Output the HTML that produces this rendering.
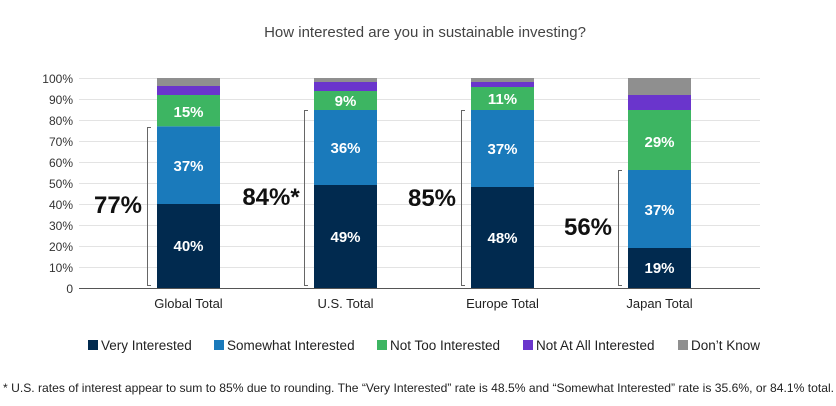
<!DOCTYPE html>
<html><head><meta charset="utf-8"><style>
html,body{margin:0;padding:0;background:#fff;}
svg{display:block;font-family:"Liberation Sans",sans-serif;}
</style></head><body>
<svg width="836" height="406" viewBox="0 0 836 406">
<text x="425" y="37" font-size="15" fill="#444" text-anchor="middle">How interested are you in sustainable investing?</text>
<g stroke="#e3e3e3" stroke-width="1">
<line x1="79" x2="760" y1="78.5" y2="78.5"/><line x1="79" x2="760" y1="99.5" y2="99.5"/><line x1="79" x2="760" y1="120.5" y2="120.5"/><line x1="79" x2="760" y1="141.5" y2="141.5"/><line x1="79" x2="760" y1="162.5" y2="162.5"/><line x1="79" x2="760" y1="183.5" y2="183.5"/><line x1="79" x2="760" y1="204.5" y2="204.5"/><line x1="79" x2="760" y1="225.5" y2="225.5"/><line x1="79" x2="760" y1="246.5" y2="246.5"/><line x1="79" x2="760" y1="267.5" y2="267.5"/>
</g>
<g font-size="12" fill="#333" text-anchor="end">
<text x="73" y="83">100%</text><text x="73" y="104">90%</text><text x="73" y="125">80%</text><text x="73" y="146">70%</text><text x="73" y="167">60%</text><text x="73" y="188">50%</text><text x="73" y="209">40%</text><text x="73" y="230">30%</text><text x="73" y="251">20%</text><text x="73" y="272">10%</text><text x="73" y="293">0</text>
</g>
<!-- Global -->
<rect x="157" y="204" width="63" height="84" fill="#012a4f"/>
<rect x="157" y="126.3" width="63" height="77.7" fill="#1a7abb"/>
<rect x="157" y="95" width="63" height="31.3" fill="#3db562"/>
<rect x="157" y="86" width="63" height="9" fill="#6a35cc"/>
<rect x="157" y="78" width="63" height="8" fill="#8f8f8f"/>
<!-- US -->
<rect x="314" y="185" width="63" height="103" fill="#012a4f"/>
<rect x="314" y="110" width="63" height="75" fill="#1a7abb"/>
<rect x="314" y="91" width="63" height="19" fill="#3db562"/>
<rect x="314" y="82" width="63" height="9" fill="#6a35cc"/>
<rect x="314" y="78" width="63" height="4" fill="#8f8f8f"/>
<!-- Europe -->
<rect x="471" y="187" width="63" height="101" fill="#012a4f"/>
<rect x="471" y="110" width="63" height="77" fill="#1a7abb"/>
<rect x="471" y="87" width="63" height="23" fill="#3db562"/>
<rect x="471" y="82" width="63" height="5" fill="#6a35cc"/>
<rect x="471" y="78" width="63" height="4" fill="#8f8f8f"/>
<!-- Japan -->
<rect x="628" y="248" width="63" height="40" fill="#012a4f"/>
<rect x="628" y="170" width="63" height="78" fill="#1a7abb"/>
<rect x="628" y="110" width="63" height="60" fill="#3db562"/>
<rect x="628" y="95" width="63" height="15" fill="#6a35cc"/>
<rect x="628" y="78" width="63" height="17" fill="#8f8f8f"/>
<line x1="79" x2="760" y1="288.5" y2="288.5" stroke="#555" stroke-width="1"/>
<g font-size="15" font-weight="bold" fill="#fff" text-anchor="middle">
<text x="188.5" y="251">40%</text><text x="188.5" y="171">37%</text><text x="188.5" y="117">15%</text>
<text x="345.5" y="242">49%</text><text x="345.5" y="153">36%</text><text x="345.5" y="106">9%</text>
<text x="502.5" y="243">48%</text><text x="502.5" y="154">37%</text><text x="502.5" y="104">11%</text>
<text x="659.5" y="273">19%</text><text x="659.5" y="215">37%</text><text x="659.5" y="147">29%</text>
</g>
<g fill="none" stroke="#666" stroke-width="1">
<path d="M151,127.5 H147.5 V285.5 H151"/>
<path d="M308,110.5 H304.5 V285.5 H308"/>
<path d="M465,110.5 H461.5 V285.5 H465"/>
<path d="M622,170.5 H618.5 V285.5 H622"/>
</g>
<g font-size="24" font-weight="bold" fill="#111" text-anchor="middle">
<text x="118" y="213">77%</text><text x="271" y="205">84%*</text><text x="432" y="206">85%</text><text x="588" y="235">56%</text>
</g>
<g font-size="13" fill="#222" text-anchor="middle">
<text x="188.5" y="308">Global Total</text><text x="345.5" y="308">U.S. Total</text><text x="502.5" y="308">Europe Total</text><text x="659.5" y="308">Japan Total</text>
</g>
<g font-size="13.5" fill="#222">
<rect x="88" y="340" width="10" height="10" fill="#012a4f"/><text x="101" y="350">Very Interested</text>
<rect x="214" y="340" width="10" height="10" fill="#1a7abb"/><text x="227" y="350">Somewhat Interested</text>
<rect x="377" y="340" width="10" height="10" fill="#3db562"/><text x="390" y="350">Not Too Interested</text>
<rect x="523" y="340" width="10" height="10" fill="#6a35cc"/><text x="536" y="350">Not At All Interested</text>
<rect x="678" y="340" width="10" height="10" fill="#8f8f8f"/><text x="691" y="350">Don’t Know</text>
</g>
<text x="3" y="392" font-size="12" fill="#222" textLength="831" lengthAdjust="spacingAndGlyphs">* U.S. rates of interest appear to sum to 85% due to rounding. The “Very Interested” rate is 48.5% and “Somewhat Interested” rate is 35.6%, or 84.1% total.</text>
</svg>
</body></html>
